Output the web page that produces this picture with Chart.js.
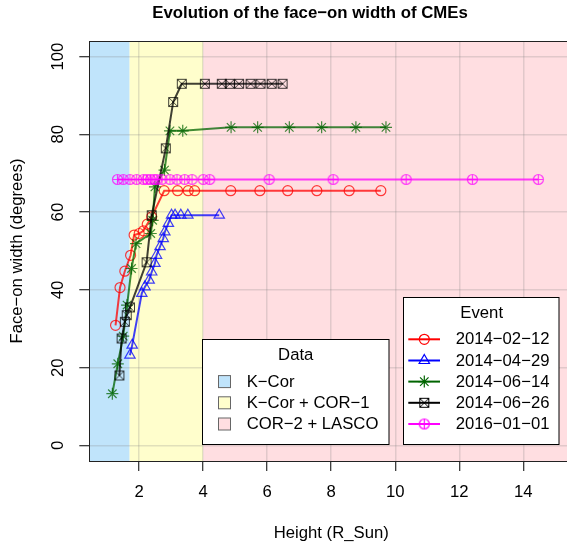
<!DOCTYPE html>
<html>
<head>
<meta charset="utf-8">
<script src="https://cdn.jsdelivr.net/npm/chart.js@4.4.0/dist/chart.umd.min.js"></script>
<style>
  html, body { margin: 0; padding: 0; overflow: hidden; background: #fff; }
</style>
</head>
<body>
<canvas id="chart" width="600" height="547"></canvas>
<script>
// values
const eventNames = ["2014−02−12", "2014−04−29", "2014−06−14", "2014−06−26", "2016−01−01"];

const height0212 = [1.26, 1.40, 1.55, 1.73, 1.84, 2.00, 2.13, 2.25, 2.39, 2.78, 3.20, 3.53, 3.73, 4.86, 5.77, 6.64, 7.55, 8.56, 9.55];
const width0212  = [30.9, 40.6, 44.8, 48.9, 54.1, 54.5, 55.2, 56.9, 58.8, 65.5, 65.5, 65.5, 65.5, 65.5, 65.5, 65.5, 65.5, 65.5, 65.5];

const height0429 = [1.71, 1.78, 2.08, 2.18, 2.31, 2.39, 2.49, 2.54, 2.65, 2.75, 2.80, 2.91, 3.01, 3.12, 3.30, 3.52, 4.50];
const width0429  = [23.2, 25.8, 39.1, 40.8, 42.5, 44.6, 46.8, 48.9, 51.1, 53.2, 54.9, 57.1, 59.2, 59.2, 59.2, 59.2, 59.2];

const height0614 = [1.16, 1.33, 1.50, 1.62, 1.76, 1.90, 2.36, 2.42, 2.49, 2.79, 2.96, 3.36, 4.87, 5.70, 6.69, 7.70, 8.77, 9.71];
const width0614  = [13.3, 21.0, 28.1, 36.1, 45.5, 51.9, 54.5, 57.9, 66.5, 70.8, 80.9, 80.9, 81.8, 81.8, 81.8, 81.8, 81.8, 81.8];

const height0626 = [1.38, 1.45, 1.55, 1.61, 1.71, 2.23, 2.39, 2.83, 3.06, 3.33, 4.05, 4.58, 4.83, 5.12, 5.48, 5.79, 6.14, 6.48];
const width0626  = [18.0, 27.5, 31.8, 33.5, 35.5, 47.1, 59.2, 76.4, 88.3, 93.0, 93.0, 93.0, 93.0, 93.0, 93.0, 93.0, 93.0, 93.0];

const height0101 = [1.32, 1.50, 1.71, 1.92, 2.13, 2.24, 2.35, 2.46, 2.55, 2.71, 2.96, 3.18, 3.42, 3.65, 4.00, 4.20, 6.06, 8.06, 10.34, 12.41, 14.47];
const width0101  = [68.4, 68.4, 68.4, 68.4, 68.4, 68.4, 68.4, 68.4, 68.4, 68.4, 68.4, 68.4, 68.4, 68.4, 68.4, 68.4, 68.4, 68.4, 68.4, 68.4, 68.4];

const xTicks = [2, 4, 6, 8, 10, 12, 14];
const yTicks = [0, 20, 40, 60, 80, 100];

const regionNames = ["K−Cor", "K−Cor + COR−1", "COR−2 + LASCO"];
const regionLimits = [1.7, 4.0];

const FONT = "'Liberation Sans', Arial, Helvetica, sans-serif";
const regionColors = ["rgb(192,228,251)", "rgb(255,254,204)", "rgb(255,222,225)"];

// R style pch 7 (square with x) and pch 10 (circle with plus)
function squareX(color) {
  const c = document.createElement("canvas");
  c.width = 12; c.height = 12;
  const g = c.getContext("2d");
  g.strokeStyle = color; g.lineWidth = 1;
  g.strokeRect(1.5, 1.5, 9, 9);
  g.beginPath();
  g.moveTo(2, 2); g.lineTo(10, 10);
  g.moveTo(10, 2); g.lineTo(2, 10);
  g.stroke();
  return c;
}
function circlePlus(color) {
  const c = document.createElement("canvas");
  c.width = 13; c.height = 13;
  const g = c.getContext("2d");
  g.strokeStyle = color; g.lineWidth = 1.2;
  g.beginPath();
  g.arc(6.5, 6.5, 5, 0, Math.PI * 2);
  g.moveTo(1.5, 6.5); g.lineTo(11.5, 6.5);
  g.moveTo(6.5, 1.5); g.lineTo(6.5, 11.5);
  g.stroke();
  return c;
}

const lineColors = ["rgba(255,0,0,0.75)", "rgba(0,0,255,0.75)", "rgba(0,100,0,0.75)", "rgba(0,0,0,0.75)", "rgba(255,0,255,0.75)"];
const keyColors = ["#ff0000", "#0000ff", "#006400", "#000000", "#ff00ff"];
const plotStyles = ["circle", "triangle", "star", squareX(lineColors[3]), circlePlus(lineColors[4])];
const keyStyles = ["circle", "triangle", "star", squareX(keyColors[3]), circlePlus(keyColors[4])];
const radii = [5, 6, 6, 5, 5];

const heights = [height0212, height0429, height0614, height0626, height0101];
const widths = [width0212, width0429, width0614, width0626, width0101];

const datasets = eventNames.map((name, i) => ({
  label: name,
  data: heights[i].map((h, k) => ({ x: h, y: widths[i][k] })),
  showLine: true,
  borderColor: lineColors[i],
  borderWidth: 2,
  pointStyle: plotStyles[i],
  pointRadius: radii[i],
  pointBorderColor: lineColors[i],
  pointBackgroundColor: "rgba(0,0,0,0)",
  pointBorderWidth: 1.2,
  tension: 0,
  order: 5 - i
}));

const backdrop = {
  id: "backdrop",
  beforeDraw(chart) {
    const { ctx, chartArea: a, scales: { x } } = chart;
    const edges = [a.left, x.getPixelForValue(regionLimits[0]), x.getPixelForValue(regionLimits[1]), a.right];
    ctx.save();
    for (let i = 0; i < 3; i++) {
      ctx.fillStyle = regionColors[i];
      ctx.fillRect(edges[i], a.top, edges[i + 1] - edges[i], a.bottom - a.top);
    }
    ctx.restore();
  },
  beforeDatasetsDraw(chart) {
    const { ctx, chartArea: a } = chart;
    ctx.save();
    ctx.strokeStyle = "#222";
    ctx.lineWidth = 1;
    ctx.strokeRect(Math.round(a.left) + 0.5, Math.round(a.top) + 0.5, a.right - a.left, a.bottom - a.top);
    ctx.restore();
  }
};

const keys = {
  id: "keys",
  afterDraw(chart) {
    const ctx = chart.ctx;
    const rows = [339.3, 360.5, 381.6, 402.8, 424.0];
    ctx.save();
    ctx.textBaseline = "middle";

    // title
    ctx.fillStyle = "#000";
    ctx.textAlign = "center";
    ctx.font = "bold 16.8px " + FONT;
    ctx.fillText("Evolution of the face−on width of CMEs", 310, 13.5);
    ctx.font = "16.7px " + FONT;

    // Data box
    ctx.fillStyle = "#fff";
    ctx.fillRect(202.5, 339.5, 186.5, 105);
    ctx.strokeStyle = "#000";
    ctx.lineWidth = 1;
    ctx.strokeRect(202.5, 339.5, 186.5, 105);
    ctx.fillStyle = "#000";
    ctx.textAlign = "center";
    ctx.fillText("Data", 295.7, 355);
    ctx.textAlign = "left";
    regionNames.forEach((name, i) => {
      const y = rows[i + 2];
      ctx.fillStyle = regionColors[i];
      ctx.fillRect(218.5, y - 6, 12, 12);
      ctx.strokeStyle = "#666";
      ctx.strokeRect(218.5, y - 6, 12, 12);
      ctx.fillStyle = "#000";
      ctx.fillText(name, 246.7, y + 0.5);
    });

    // Event box
    ctx.fillStyle = "#fff";
    ctx.fillRect(403.5, 297.5, 155.5, 147);
    ctx.strokeStyle = "#000";
    ctx.strokeRect(403.5, 297.5, 155.5, 147);
    ctx.fillStyle = "#000";
    ctx.textAlign = "center";
    ctx.fillText("Event", 481.7, 313);
    ctx.textAlign = "left";
    eventNames.forEach((name, i) => {
      const y = rows[i];
      ctx.strokeStyle = keyColors[i];
      ctx.lineWidth = 2;
      ctx.beginPath();
      ctx.moveTo(408.3, y);
      ctx.lineTo(440, y);
      ctx.stroke();
      ctx.lineWidth = 1.2;
      ctx.fillStyle = "rgba(0,0,0,0)";
      Chart.helpers.drawPoint(ctx, { pointStyle: keyStyles[i], radius: radii[i], rotation: 0, borderWidth: 1.2 }, 424.3, y);
      ctx.fillStyle = "#000";
      ctx.fillText(name, 455.7, y + 0.5);
    });
    ctx.restore();
  }
};

const gridStyle = {
  color: "rgba(128,128,128,0.24)",
  lineWidth: 1.5,
  tickLength: 10,
  tickColor: "#000",
  tickWidth: 1
};

new Chart(document.getElementById("chart"), {
  type: "scatter",
  data: { datasets },
  options: {
    responsive: false,
    animation: false,
    events: [],
    layout: { padding: { top: 41, right: 26.8, left: 0, bottom: 0 } },
    plugins: { legend: { display: false }, title: { display: false }, tooltip: { enabled: false } },
    scales: {
      x: {
        type: "linear",
        min: 0.44,
        max: 15.56,
        afterBuildTicks: s => { s.ticks = xTicks.map(v => ({ value: v })); },
        afterFit: s => { s.height = 86; },
        grid: gridStyle,
        border: { display: true, color: "#222", width: 1 },
        ticks: { color: "#000", padding: 11, font: { family: FONT, size: 16.7 } },
        title: { display: true, text: "Height (R_Sun)", color: "#000", font: { family: FONT, size: 16.7 }, padding: { top: 0, bottom: 4 } }
      },
      y: {
        type: "linear",
        min: -4,
        max: 104,
        afterBuildTicks: s => { s.ticks = yTicks.map(v => ({ value: v })); },
        afterFit: s => { s.width = 89.3; },
        grid: gridStyle,
        border: { display: true, color: "#222", width: 1 },
        ticks: { color: "#000", minRotation: 90, maxRotation: 90, crossAlign: "center", padding: 7, font: { family: FONT, size: 16.7 } },
        title: { display: true, text: "Face−on width (degrees)", color: "#000", font: { family: FONT, size: 16.7 }, padding: { top: 7.5, bottom: 0 } }
      }
    }
  },
  plugins: [backdrop, keys]
});
</script>
</body>
</html>
